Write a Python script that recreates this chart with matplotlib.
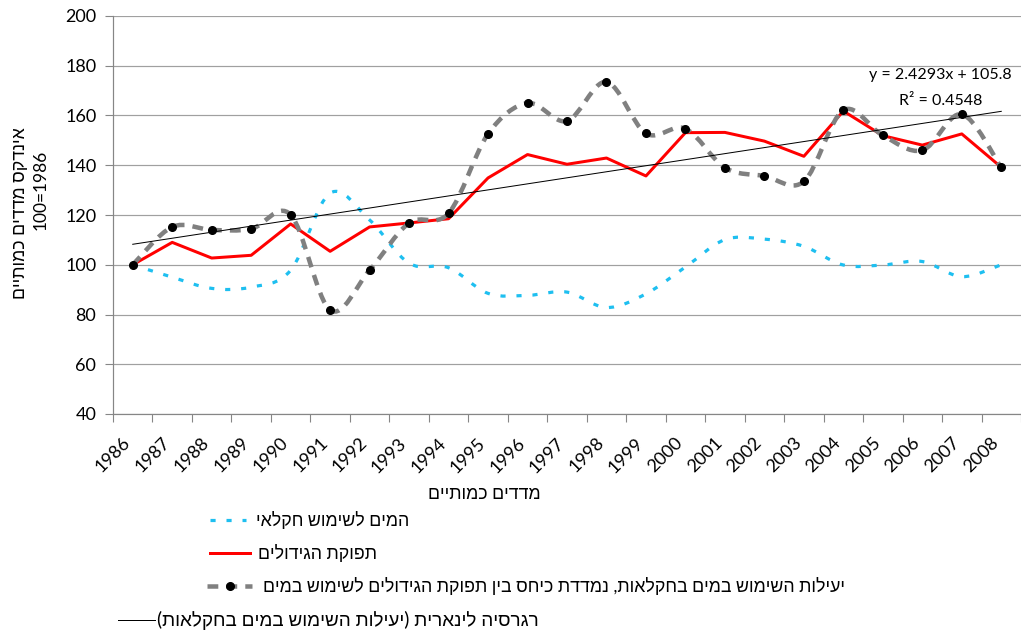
import numpy as np
import matplotlib.pyplot as plt
from matplotlib.path import Path
from matplotlib.patches import PathPatch
from matplotlib.lines import Line2D
from matplotlib.transforms import ScaledTranslation

plt.rcParams['font.family'] = ['Lato', 'Liberation Sans', 'DejaVu Sans']

# נתונים - מדדים כמותיים, 1986=100
years = [str(y) for y in range(1986, 2009)]
water = [100, 95.0, 90.5, 91.0, 97.8, 128.8, 118.0, 100.6, 98.8, 88.5, 87.7, 89.0,
         82.8, 88.3, 99.1, 110.1, 110.3, 107.4, 99.9, 99.9, 101.3, 95.2, 100.0]
crop = [100, 109.0, 102.7, 103.8, 116.4, 105.4, 115.2, 116.8, 118.5, 134.9, 144.3, 140.4,
        142.9, 135.7, 153.1, 153.2, 149.7, 143.6, 161.8, 151.9, 148.1, 152.6, 139.2]
efficiency = [100, 115.2, 114.0, 114.4, 120.1, 81.8, 97.8, 116.8, 120.7, 152.6, 165.0, 157.8,
              173.5, 152.8, 154.7, 139.0, 135.7, 133.5, 162.1, 152.0, 146.0, 160.5, 139.1]

# קו מגמה ליניארי
slope = 2.4293
intercept = 105.8
r2 = 0.4548

W, H = 1021, 632


def rtl(s):
    # matplotlib לא מטפל בכיווניות, לכן הופכים ידנית
    table = str.maketrans('()', ')(')
    return s[::-1].translate(table)


def fx(px):
    return px / W


def fy(py):
    return 1 - py / H


def smooth_path(x, y):
    # קו מוחלק בסגנון אקסל (בזייה קובית)
    pts = np.column_stack([x, y]).astype(float)
    p = np.vstack([pts[:1], pts, pts[-1:]])
    verts = [pts[0]]
    codes = [Path.MOVETO]
    for i in range(1, len(p) - 2):
        c1 = p[i] + (p[i + 1] - p[i - 1]) / 6
        c2 = p[i + 1] - (p[i + 2] - p[i]) / 6
        verts += [c1, c2, p[i + 1]]
        codes += [Path.CURVE4] * 3
    return Path(verts, codes)


x = np.arange(len(years))
px = 72 / 100  # פיקסל בנקודות

water_style = dict(color='#1EBFF0', lw=3.2 * px, linestyle=(0, (1.6, 3.4)))
crop_style = dict(color='#FF0000', lw=3.0 * px)
eff_style = dict(color='#808080', lw=4.5 * px, linestyle=(0, (2.4, 1.8)))
trend_style = dict(color='black', lw=1.0 * px)

fig = plt.figure(figsize=(W / 100, H / 100), dpi=100)
ax = fig.add_axes([fx(113), fy(414), (1021 - 113) / W, (414 - 16) / H])

ax.add_patch(PathPatch(smooth_path(x, water), fill=False, zorder=3, capstyle='butt', **water_style))
ax.plot(x, crop, zorder=4, solid_capstyle='round', **crop_style)
ax.add_patch(PathPatch(smooth_path(x, efficiency), fill=False, zorder=5, capstyle='butt', **eff_style))
ax.plot(x, efficiency, 'o', color='black', ms=5.5, zorder=6)

xt = np.array([x[0], x[-1]])
ax.plot(xt, slope * (xt + 1) + intercept, zorder=7, **trend_style)

ax.set_xlim(-0.5, len(years) - 0.5)
ax.set_ylim(40, 200)
ax.set_yticks(range(40, 201, 20))
ax.yaxis.grid(True, color='#A0A0A0', lw=1.2 * px)
ax.set_axisbelow(True)

ax.set_xticks(np.arange(-0.5, len(years), 1.0))
ax.set_xticklabels([])
ax.set_xticks(x, minor=True)
ax.set_xticklabels(years, minor=True, rotation=45, ha='right', va='center',
                   rotation_mode='anchor', fontsize=13)
ax.tick_params(axis='x', which='minor', length=0, pad=19)
ax.tick_params(axis='x', which='major', length=6, color='#868686')
ax.tick_params(axis='y', length=6, color='#868686', labelsize=13, pad=6)
shift = ScaledTranslation(-5 / 100, 0, fig.dpi_scale_trans)
for lab in ax.xaxis.get_minorticklabels():
    lab.set_transform(lab.get_transform() + shift)

for side in ['top', 'right']:
    ax.spines[side].set_visible(False)
for side in ['left', 'bottom']:
    ax.spines[side].set_color('#868686')
    ax.spines[side].set_linewidth(1.2 * px)

# משוואת המגמה
fig.text(fx(940), fy(75), f'y = {slope}x + {intercept}', ha='center', va='center', fontsize=11.5)
fig.text(fx(941), fy(101), f'R² = {r2}', ha='center', va='center', fontsize=11.5)

# כותרות צירים
fig.text(fx(484), fy(494), rtl('מדדים כמותיים'), ha='center', va='center', fontsize=12.8)
fig.text(fx(20), fy(213), rtl('אינדקס מדדים כמותיים'), rotation=90,
         ha='center', va='center', fontsize=12.8)
fig.text(fx(41), fy(190), '100=1986', rotation=90, ha='center', va='center', fontsize=12.5)

# מקרא
legend_items = [
    ('המים לשימוש חקלאי', water_style, 210, 246, 256, 520, False, 12.8),
    ('תפוקת הגידולים', crop_style, 210, 250, 258, 553, False, 12.8),
    ('יעילות השימוש במים בחקלאות, נמדדת כיחס בין תפוקת הגידולים לשימוש במים',
     eff_style, 207, 252, 263, 586, True, 12.8),
    ('רגרסיה לינארית (יעילות השימוש במים בחקלאות)', trend_style, 118, 155, 157, 620, False, 13.6),
]
for label, style, x0, x1, tx, ty, marker, size in legend_items:
    fig.add_artist(Line2D([fx(x0), fx(x1)], [fy(ty), fy(ty)], transform=fig.transFigure,
                          dash_capstyle='butt', **style))
    if marker:
        fig.add_artist(Line2D([fx((x0 + x1) / 2)], [fy(ty)], transform=fig.transFigure,
                              marker='o', color='black', ms=5.5, lw=0))
    fig.text(fx(tx), fy(ty), rtl(label), ha='left', va='center', fontsize=size)

fig.savefig('out.png', dpi=100)
